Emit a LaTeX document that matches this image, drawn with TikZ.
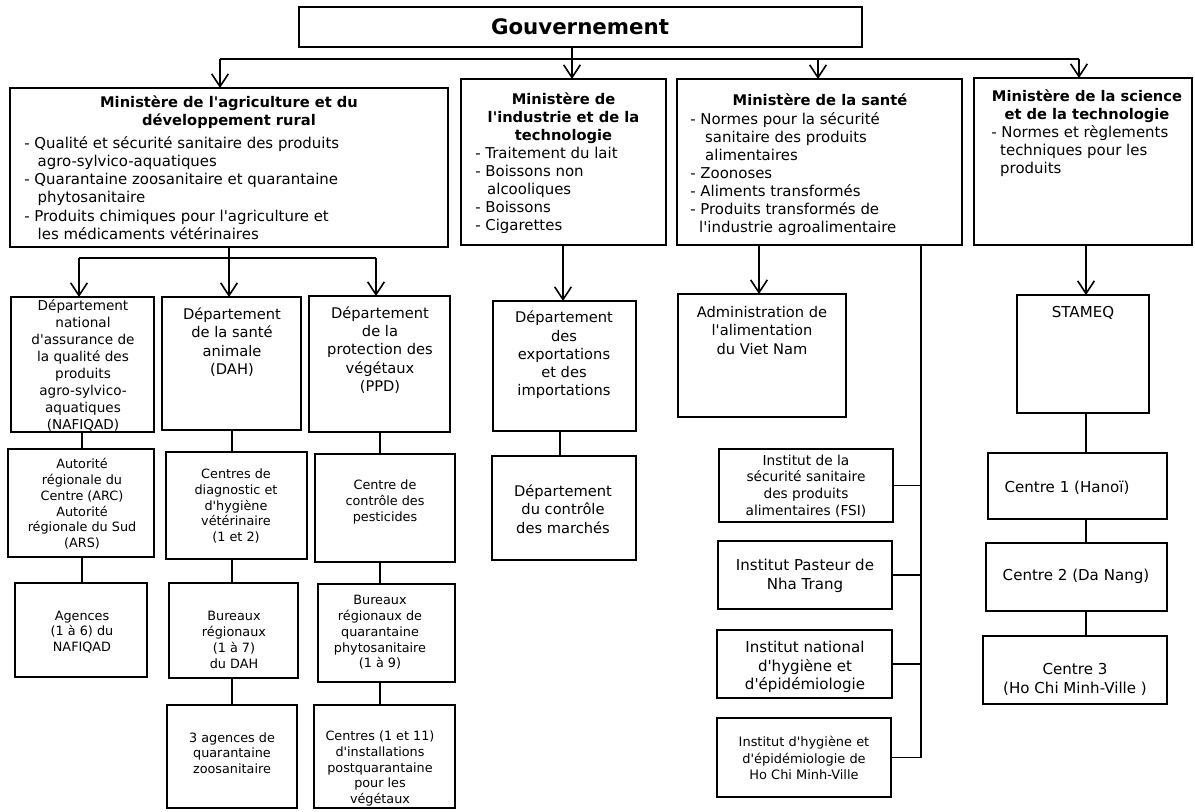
\documentclass[tikz,border=0pt]{standalone}
\usepackage{fontspec}
\setmainfont{DejaVu Sans}
\usetikzlibrary{arrows.meta}
\newcommand\apo{\textquotesingle}
\begin{document}
\begin{tikzpicture}[x=0.75pt,y=-0.75pt,
  rect/.style n args={4}{draw, line width=1.5pt, inner sep=0pt, outer sep=0pt,
     minimum width={(#3-#1)*0.75pt}, minimum height={(#4-#2)*0.75pt},
     at={({(#1+#3)/2},{(#2+#4)/2})}},
  conn/.style={line width=1.05pt},
  arr/.style={line width=1.2pt, -{Straight Barb[length=9.5pt,width=12.5pt]}},
  ttl/.style={inner sep=0pt, align=center, font=\bfseries\fontsize{11}{13.5}\selectfont},
  body/.style={inner sep=0pt, align=left, anchor=west, font=\fontsize{11.2}{13.6}\selectfont},
  lbl/.style={inner sep=0pt, align=center},
  sA/.style={font=\fontsize{10.2}{12.8}\selectfont},
  sB/.style={font=\fontsize{11}{13.7}\selectfont},
  sC/.style={font=\fontsize{9.6}{11.8}\selectfont},
  sD/.style={font=\fontsize{11.3}{13.9}\selectfont},
  sE/.style={font=\fontsize{10.3}{12.5}\selectfont},
  sF/.style={font=\fontsize{9.7}{12.5}\selectfont}
]
\useasboundingbox (0,0) rectangle (1195,811);
\fill[white] (0,0) rectangle (1195,811);

% ---------- top ----------
\node[rect={299}{7}{862}{47}] (gouv) {};
\node[inner sep=0pt, font=\bfseries\fontsize{16}{19}\selectfont] (gouvT) at (580,27) {Gouvernement};

\node[rect={10}{88}{448}{247}] (agri) {};
\node[ttl] (agriT) at (229,112) {Ministère de l\apo agriculture et du\\développement rural};
\node[body] (agriB) at (24,188) {- Qualité et sécurité sanitaire des produits\\
\hspace*{0.9em}agro-sylvico-aquatiques\\
- Quarantaine zoosanitaire et quarantaine\\
\hspace*{0.9em}phytosanitaire\\
- Produits chimiques pour l\apo agriculture et\\
\hspace*{0.9em}les médicaments vétérinaires};

\node[rect={461}{79}{666}{245}] (indus) {};
\node[ttl] (indusT) at (563.5,118.5) {Ministère de\\l\apo industrie et de la\\technologie};
\node[body] (indusB) at (475,190.5) {- Traitement du lait\\
- Boissons non\\
\hspace*{0.8em}alcooliques\\
- Boissons\\
- Cigarettes};

\node[rect={677}{79}{962}{245}] (sante) {};
\node[ttl] (santeT) at (820,100) {Ministère de la santé};
\node[body] (santeB) at (690,174) {- Normes pour la sécurité\\
\hspace*{1em}sanitaire des produits\\
\hspace*{1em}alimentaires\\
- Zoonoses\\
- Aliments transformés\\
- Produits transformés de\\
\hspace*{0.6em}l\apo industrie agroalimentaire};

\node[rect={974}{78}{1192}{245}] (sci) {};
\node[ttl] (sciT) at (1087,106) {Ministère de la science\\et de la technologie};
\node[body] (sciB) at (991,151) {- Normes et règlements\\
\hspace*{0.6em}techniques pour les\\
\hspace*{0.6em}produits};

% bus
\coordinate (busL) at (220,59);
\coordinate (busR) at (1079,59);
\coordinate (gx) at (572,59);
\coordinate (sx) at (818,59);
\draw[conn] (busL) -- (busR);
\draw[conn] (gouv.south -| gx) -- (gx);
\draw[arr] (gx) -- (indus.north -| gx);
\draw[arr] (busL) -- (agri.north -| busL);
\draw[arr] (sx) -- (sante.north -| sx);
\draw[arr] (busR) -- (sci.north -| busR);

% ---------- agriculture column ----------
\node[rect={11}{297}{154}{432}] (naf) {};
\node[lbl,sA] (nafT) at (83,365.5) {Département\\national\\d\apo assurance de\\la qualité des\\produits\\agro-sylvico-\\aquatiques\\(NAFIQAD)};
\node[rect={162}{297}{301}{430}] (dah) {};
\node[lbl,sB] (dahT) at (232,342) {Département\\de la santé\\animale\\(DAH)};
\node[rect={309}{296}{450}{432}] (ppd) {};
\node[lbl,sB] (ppdT) at (380,350) {Département\\de la\\protection des\\végétaux\\(PPD)};

\coordinate (aj) at (229,258);
\coordinate (ajL) at (79,258);
\coordinate (ajR) at (376,258);
\draw[conn] (agri.south -| aj) -- (aj);
\draw[conn] (ajL) -- (ajR);
\draw[arr] (ajL) -- (naf.north -| ajL);
\draw[arr] (aj) -- (dah.north -| aj);
\draw[arr] (ajR) -- (ppd.north -| ajR);

\node[rect={8}{449}{154}{557}] (arc) {};
\node[lbl,sC] (arcT) at (82,504) {Autorité\\régionale du\\Centre (ARC)\\Autorité\\régionale du Sud\\(ARS)};
\node[rect={166}{452}{307}{559}] (diag) {};
\node[lbl,sC] (diagT) at (236,506) {Centres de\\diagnostic et\\d\apo hygiène\\vétérinaire\\(1 et 2)};
\node[rect={315}{454}{455}{562}] (pest) {};
\node[lbl,sC] (pestT) at (385,502) {Centre de\\contrôle des\\pesticides};

\node[rect={15}{583}{147}{677}] (agen) {};
\node[lbl,sC] (agenT) at (82,632) {Agences\\(1 à 6) du\\NAFIQAD};
\node[rect={169}{583}{298}{678}] (bdah) {};
\node[lbl,sC] (bdahT) at (234,640) {Bureaux\\régionaux\\(1 à 7)\\du DAH};
\node[rect={318}{584}{455}{682}] (bppd) {};
\node[lbl,sC] (bppdT) at (380,632.5) {Bureaux\\régionaux de\\quarantaine\\phytosanitaire\\(1 à 9)};

\node[rect={167}{705}{297}{808}] (tag) {};
\node[lbl,sC] (tagT) at (232,753) {3 agences de\\quarantaine\\zoosanitaire};
\node[rect={314}{705}{455}{808}] (cent) {};
\node[lbl,sC] (centT) at (380,768.5) {Centres (1 et 11)\\d\apo installations\\postquarantaine\\pour les\\végétaux};

\coordinate (c1) at (82,0);
\coordinate (c2) at (232,0);
\coordinate (c3) at (380,0);
\draw[conn] (naf.south -| c1) -- (arc.north -| c1);
\draw[conn] (arc.south -| c1) -- (agen.north -| c1);
\draw[conn] (dah.south -| c2) -- (diag.north -| c2);
\draw[conn] (diag.south -| c2) -- (bdah.north -| c2);
\draw[conn] (bdah.south -| c2) -- (tag.north -| c2);
\draw[conn] (ppd.south -| c3) -- (pest.north -| c3);
\draw[conn] (pest.south -| c3) -- (bppd.north -| c3);
\draw[conn] (bppd.south -| c3) -- (cent.north -| c3);

% ---------- industrie column ----------
\node[rect={493}{301}{636}{431}] (exp) {};
\node[lbl,sB] (expT) at (564,355) {Département\\des\\exportations\\et des\\importations};
\node[rect={492}{456}{636}{560}] (mar) {};
\node[lbl,sB] (marT) at (563,509) {Département\\du contrôle\\des marchés};
\coordinate (c4) at (563,0);
\coordinate (c5) at (560,0);
\draw[arr] (indus.south -| c4) -- (exp.north -| c4);
\draw[conn] (exp.south -| c5) -- (mar.north -| c5);

% ---------- sante column ----------
\node[rect={678}{294}{846}{417}] (adm) {};
\node[lbl,sB] (admT) at (762,330.5) {Administration de\\l\apo alimentation\\du Viet Nam};
\coordinate (c6) at (759,0);
\draw[arr] (sante.south -| c6) -- (adm.north -| c6);

\node[rect={719}{449}{893}{522}] (fsi) {};
\node[lbl,sE] (fsiT) at (806,486) {Institut de la\\sécurité sanitaire\\des produits\\alimentaires (FSI)};
\node[rect={718}{541}{892}{609}] (past) {};
\node[lbl,sD] (pastT) at (805,576) {Institut Pasteur de\\Nha Trang};
\node[rect={717}{630}{892}{698}] (nat) {};
\node[lbl,sD] (natT) at (805,667) {Institut national\\d\apo hygiène et\\d\apo épidémiologie};
\node[rect={717}{718}{891}{797}] (hcm) {};
\node[lbl,sF] (hcmT) at (804,758) {Institut d\apo hygiène et\\d\apo épidémiologie de\\Ho Chi Minh-Ville};

\coordinate (c7) at (921,0);
\draw[conn] (sante.south -| c7) |- (hcm.east);
\draw[conn] (fsi.east) -- (fsi.east -| c7);
\draw[conn] (past.east) -- (past.east -| c7);
\draw[conn] (nat.east) -- (nat.east -| c7);

% ---------- science column ----------
\node[rect={1017}{295}{1149}{413}] (stq) {};
\node[lbl,sD] (stqT) at (1083,313) {STAMEQ};
\node[rect={988}{453}{1167}{519}] (ce1) {};
\node[lbl,sD] (ce1T) at (1067,488) {Centre 1 (Hanoï)};
\node[rect={986}{543}{1167}{611}] (ce2) {};
\node[lbl,sD] (ce2T) at (1076,576) {Centre 2 (Da Nang)};
\node[rect={983}{636}{1167}{704}] (ce3) {};
\node[lbl,sD] (ce3T) at (1075,679.5) {Centre 3\\(Ho Chi Minh-Ville )};

\coordinate (c8) at (1086,0);
\draw[arr] (sci.south -| c8) -- (stq.north -| c8);
\draw[conn] (stq.south -| c8) -- (ce1.north -| c8);
\draw[conn] (ce1.south -| c8) -- (ce2.north -| c8);
\draw[conn] (ce2.south -| c8) -- (ce3.north -| c8);
\end{tikzpicture}
\end{document}
